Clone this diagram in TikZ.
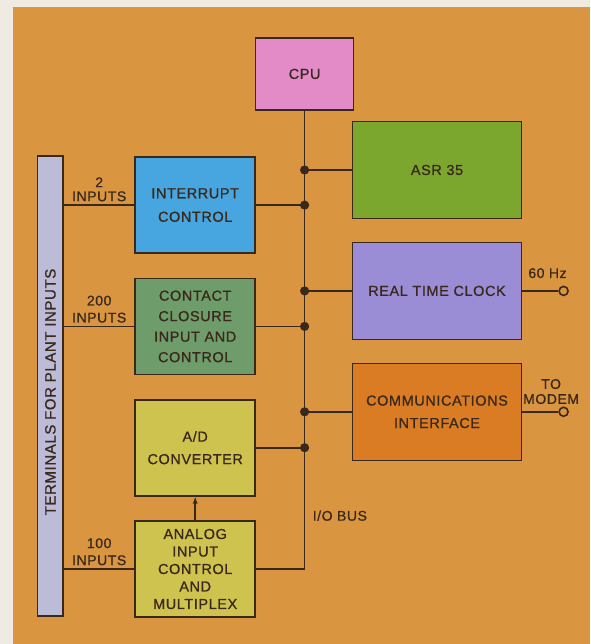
\documentclass[tikz,border=0pt]{standalone}
\usepackage{fontspec}
\setmainfont{Liberation Sans}[LetterSpace=4, FakeBold=0.9]
\usetikzlibrary{positioning,arrows.meta}

\definecolor{paper}{HTML}{EFEBE3}
\definecolor{bg}{HTML}{DA9540}
\definecolor{ink}{HTML}{3A281C}
\definecolor{cpuc}{HTML}{E38BC6}
\definecolor{asrc}{HTML}{7CA72F}
\definecolor{rtcc}{HTML}{9A8DD5}
\definecolor{commc}{HTML}{D97C24}
\definecolor{intrc}{HTML}{47A6DF}
\definecolor{contc}{HTML}{6E9D6B}
\definecolor{adcc}{HTML}{CFC34F}
\definecolor{barc}{HTML}{BCBBD8}

\tikzset{
  box/.style={draw=ink, line width=1.6pt, align=center, text=ink, inner sep=2pt,
    font=\fontsize{14.5}{17.5}\selectfont},
  lbox/.style={box, minimum width=120pt, minimum height=96pt},
  rbox/.style={box, minimum width=169pt, minimum height=97pt},
  lbl/.style={text=ink, align=center, inner sep=3pt, font=\fontsize{14}{17}\selectfont},
  wire/.style={draw=ink, line width=1.6pt},
  jack/.style={circle, draw=ink, line width=1.6pt, fill=bg, minimum size=9pt, inner sep=0pt}
}

\begin{document}
\begin{tikzpicture}[x=1pt,y=1pt]
   \useasboundingbox (0,0) rectangle (590,-644);
   \fill[paper] (0,0) rectangle (590,-644);
   \fill[bg] (13,-7) rectangle (590,-644);
   % blocks
   \node (cpu) [box, fill=cpuc, minimum width=98pt, minimum height=72pt] at (304.6,-73.9) {CPU};
   \node (asr) [rbox, fill=asrc] at (437,-170) {ASR 35};
   \node (rtc) [rbox, fill=rtcc, below=22.3pt of asr] {REAL TIME CLOCK};
   \node (comm) [rbox, fill=commc, below=22.3pt of rtc] {COMMUNICATIONS\\[5pt]INTERFACE};
   \node (intr) [lbox, fill=intrc] at (195.2,-205.1) {INTERRUPT\\[6pt]CONTROL};
   \node (cont) [lbox, fill=contc, below=23.7pt of intr] {CONTACT\\[3pt]CLOSURE\\[3pt]INPUT AND\\[3pt]CONTROL};
   \node (adc) [lbox, fill=adcc, below=23.7pt of cont] {A/D\\[5pt]CONVERTER};
   \node (ana) [lbox, fill=adcc, below=23.7pt of adc] {ANALOG\\INPUT\\CONTROL\\AND\\MULTIPLEX};
   \node (bar) [draw=ink, line width=1.6pt, fill=barc, minimum width=25.6pt, minimum height=460pt, inner sep=0pt] at (50.4,-386) {};
   \node (term) [text=ink, rotate=90, font=\fontsize{15}{15}\selectfont] at ([yshift=-6pt]bar.center) {TERMINALS FOR PLANT INPUTS};
   % I/O bus
   \coordinate (busend) at (cpu.south |- ana.east);
   \draw[wire] (cpu) -- (busend) -- (ana);
   \foreach \b in {asr,intr,rtc,cont,comm,adc} {
      \draw[wire] (\b -| busend) -- (\b);
      \fill[ink] (\b -| busend) circle (4.6pt);
   }
   \node (iobus) [lbl, above right=45pt and 5pt of busend] {I/O BUS};
   % plant inputs
   \draw[wire] (intr -| bar.east) -- node[lbl, above] {2\\[-3pt]INPUTS} (intr);
   \draw[wire] (cont -| bar.east) -- node[lbl, above] {200\\INPUTS} (cont);
   \draw[wire] (ana -| bar.east) -- node[lbl, above] {100\\INPUTS} (ana);
   \draw[wire, -{Latex[length=7pt,width=5pt]}] (ana) -- (adc);
   % outputs
   \node (clk) [jack, right=36pt of rtc] {};
   \draw[wire] (rtc) -- node[lbl, above=9pt, pos=0.7] {60 Hz} (clk);
   \node (modem) [jack, right=36pt of comm] {};
   \draw[wire] (comm) -- node[lbl, above=4pt, pos=0.8] {TO\\[-2pt]MODEM} (modem);
\end{tikzpicture}
\end{document}
